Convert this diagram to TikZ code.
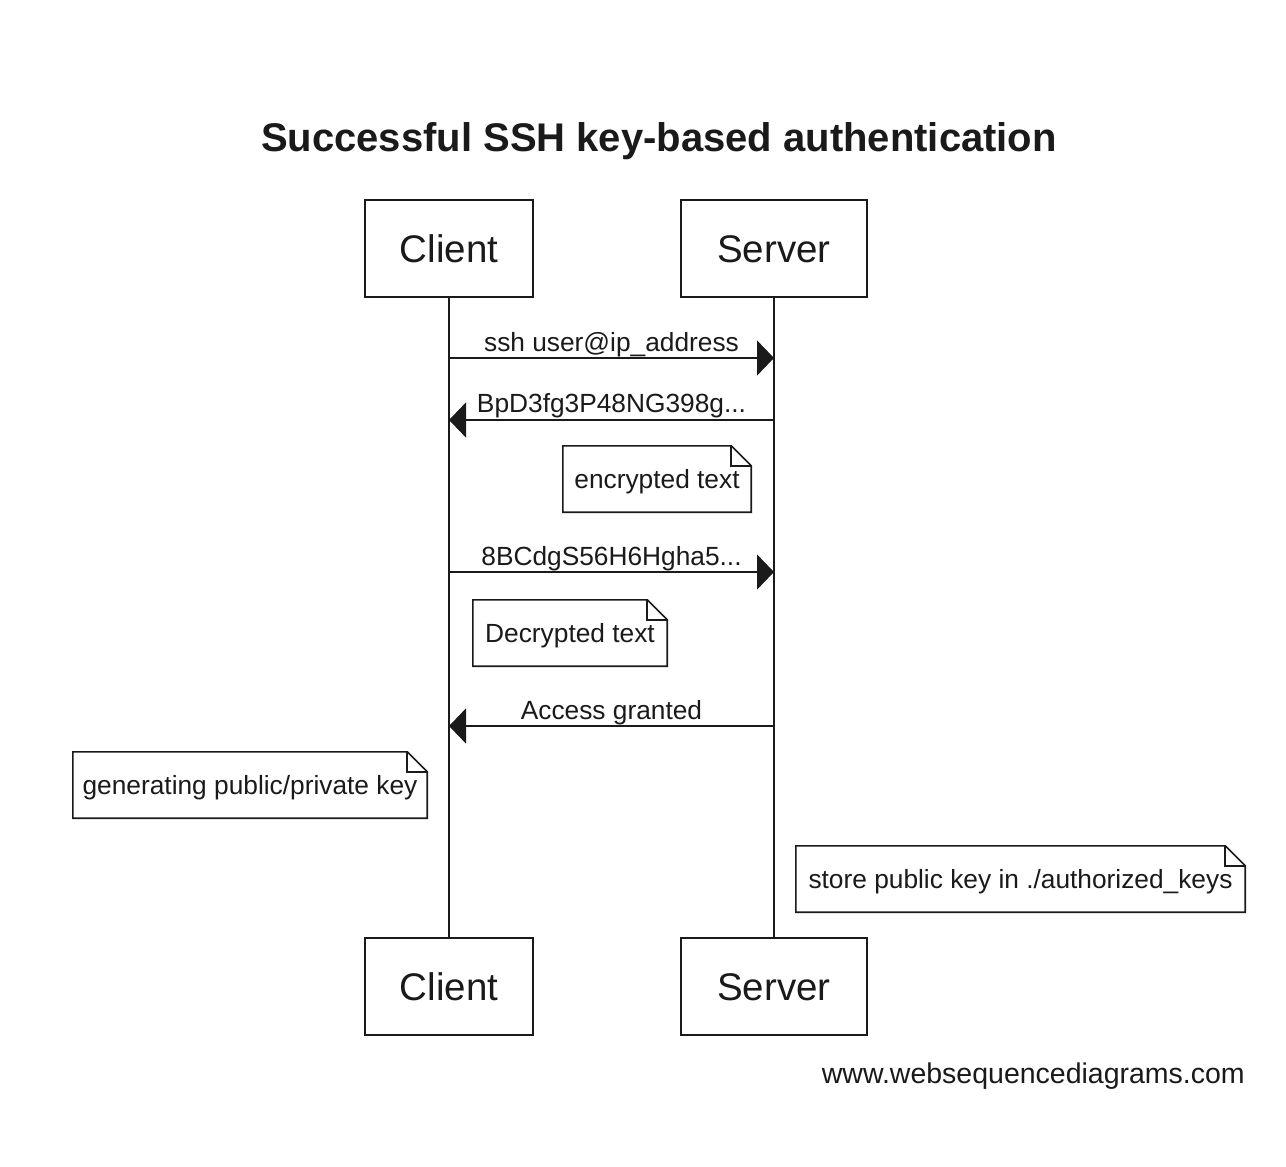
\documentclass[tikz,border=0pt]{standalone}
\usepackage{fontspec}
\setmainfont{Liberation Sans}
\usetikzlibrary{arrows.meta,calc}
\definecolor{ink}{HTML}{1A1A1A}
\tikzset{
  actor/.style={draw=ink, line width=1.6pt, fill=white, minimum width=#1, minimum height=97pt,
    inner sep=0pt, text height=27.5pt, text depth=0pt, font=\fontsize{38.5}{40}\selectfont, text=ink},
  notebox/.style={draw=none, minimum width=#1, minimum height=66pt, inner sep=0pt,
    text height=21pt, text depth=3pt, font=\fontsize{26.3}{28}\selectfont, text=ink},
  lbl/.style={anchor=base, font=\fontsize{26.3}{28}\selectfont, text=ink, inner sep=0pt},
  life/.style={draw=ink, line width=1.6pt},
  msg/.style={draw=ink, line width=1.6pt, -{Triangle[length=17pt,width=35pt]}},
  noteline/.style={draw=ink, line width=1.6pt, line join=miter}
}
\newcommand{\dognote}[1]{%
  \draw[noteline] (#1.north west) -- ($(#1.north east)+(-20,0)$) -- ($(#1.north east)+(0,20)$) -- (#1.south east) -- (#1.south west) -- cycle;
  \draw[noteline] ($(#1.north east)+(-20,0)$) -- ($(#1.north east)+(-20,20)$) -- ($(#1.north east)+(0,20)$);
}
\begin{document}
\begin{tikzpicture}[x=1pt,y=-1pt]
\useasboundingbox[fill=white] (0,0) rectangle (1286,1167);
% title
\node[font=\bfseries\fontsize{40}{42}\selectfont, text=ink, text height=29pt, text depth=0pt, inner sep=0pt] (title) at (659,137) {Successful SSH key-based authentication};
% actors
\node[actor=168pt] (cltop) at (449,248.5) {Client};
\node[actor=186pt] (svtop) at (774,248.5) {Server};
\node[actor=168pt] (clbot) at (449,986.5) {Client};
\node[actor=186pt] (svbot) at (774,986.5) {Server};
% lifelines
\draw[life] (cltop.south) -- (clbot.north);
\draw[life] (svtop.south) -- (svbot.north);
% message points
\coordinate (c1) at (449,358); \coordinate (s1) at (774,358);
\coordinate (c2) at (449,420); \coordinate (s2) at (774,420);
\coordinate (c3) at (449,572); \coordinate (s3) at (774,572);
\coordinate (c4) at (449,726); \coordinate (s4) at (774,726);
\draw[msg] (c1) -- (s1);
\draw[msg] (s2) -- (c2);
\draw[msg] (c3) -- (s3);
\draw[msg] (s4) -- (c4);
\node[lbl] (l1) at (611.5,351) {ssh user@ip\_address};
\node[lbl] (l2) at (611.5,412) {BpD3fg3P48NG398g...};
\node[lbl] (l3) at (611.5,565) {8BCdgS56H6Hgha5...};
\node[lbl] (l4) at (611.5,719) {Access granted};
% notes
\node[notebox=188pt] (n1) at (657,479) {encrypted text};
\dognote{n1}
\node[notebox=194pt] (n2) at (570,633) {Decrypted text};
\dognote{n2}
\node[notebox=354pt] (n3) at (250,785) {generating public/private key};
\dognote{n3}
\node[notebox=449pt] (n4) at (1020.5,879) {store public key in ./authorized\_keys};
\dognote{n4}
% footer
\node[anchor=base east, inner sep=0pt, font=\fontsize{28.5}{30}\selectfont, text=ink] (foot) at (1245,1083) {www.websequencediagrams.com};
\end{tikzpicture}
\end{document}
